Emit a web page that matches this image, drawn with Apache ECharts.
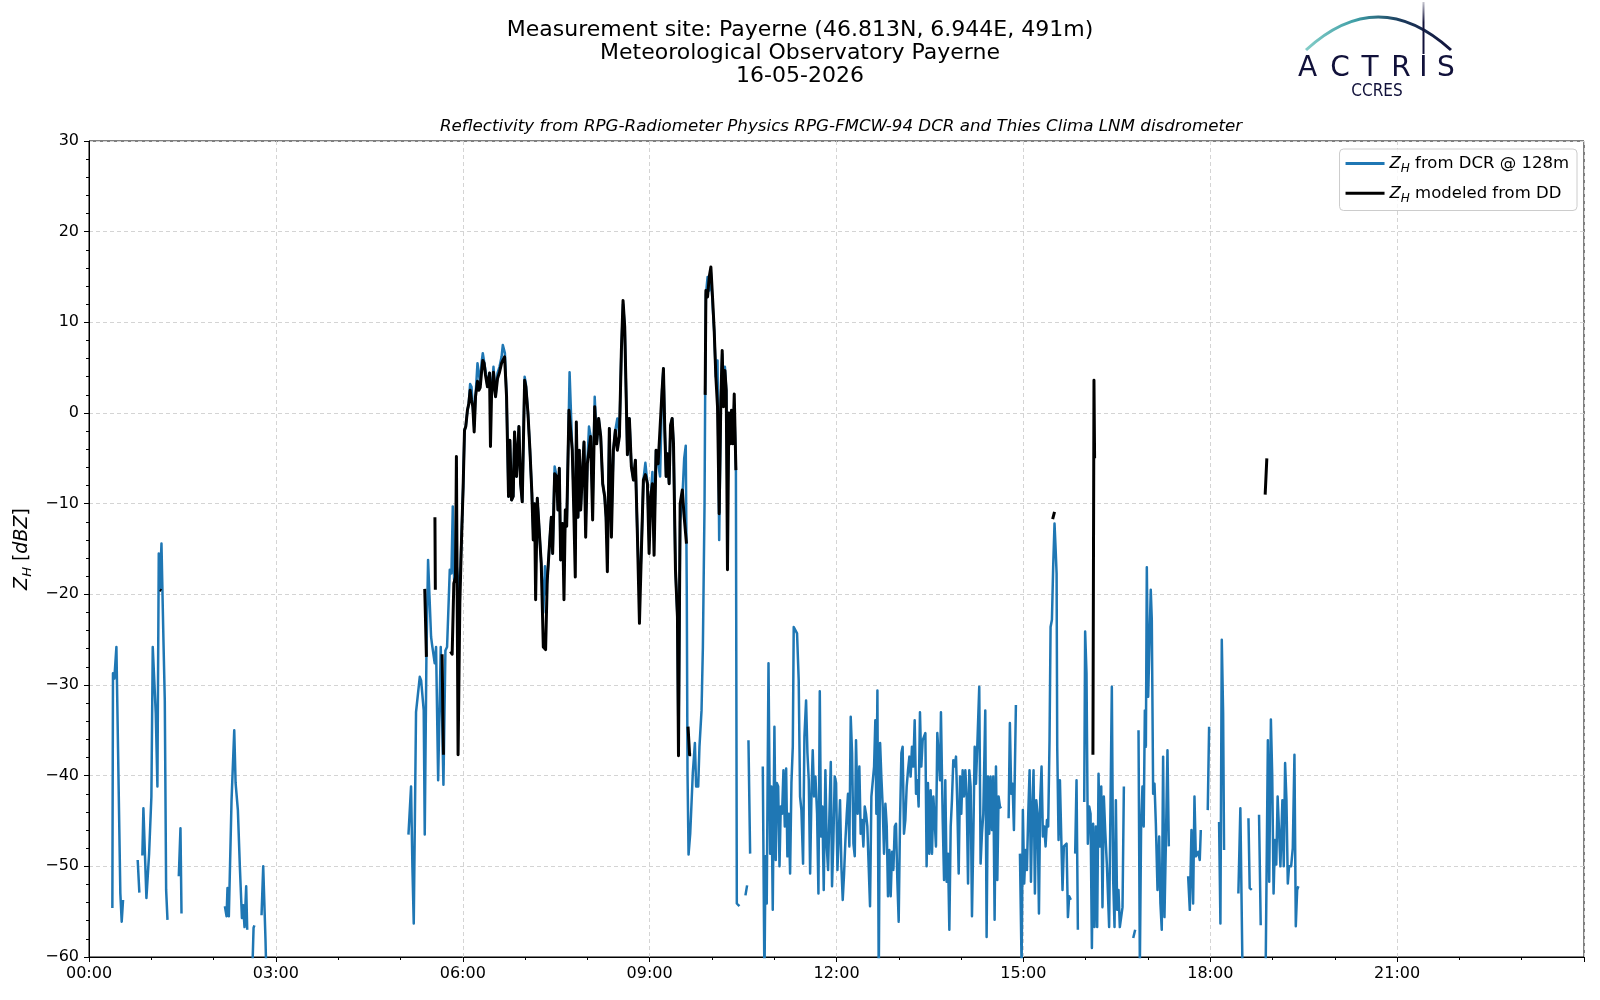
<!DOCTYPE html>
<html>
<head>
<meta charset="utf-8">
<title>Reflectivity Payerne 16-05-2026</title>
<script src="https://cdn.jsdelivr.net/npm/echarts@6/dist/echarts.min.js"></script>
<style>
    html, body { margin: 0; padding: 0; background: #fff; }
    #chart { width: 1600px; height: 1000px; }
</style>
</head>
<body>
<div id="chart"></div>
<script>
// minutes since 00:00 UTC, reflectivity in dBZ; null = gap in the record
var dcrPoints = [
    [22.5,-54.6],[23.1,-28.7],[24.4,-29.3],[26.4,-25.8],[27.6,-26],[30.2,-53],[31.5,-56.1],[32.8,-53.7], null,
    [46.9,-49.3],[48.5,-52.9], null,
    [51.4,-48.8],[52.4,-43.6],[55.3,-53.5],[57.9,-48.6],[60.1,-42.3],[61.4,-25.8],[63,-26],[64.3,-33.1],[65.9,-41.2],[67.2,-15.5],[68.2,-19.5],[69.8,-14.4],[71.7,-25],[73,-31.7],[74.3,-52.6],[75.6,-55.9], null,
    [86.5,-51.1],[88.1,-45.8],[89.1,-55.2], null,
    [130.9,-54.4],[132.5,-55.5],[133.4,-52.4],[134.7,-55.5],[136,-55.5],[137.3,-42.7],[139.9,-35],[141.2,-40.8],[143.4,-43.8],[145.3,-50],[147.3,-55.7],[148.5,-54.3],[149.8,-56.7],[151.4,-52.2],[152.4,-57], null,
    [156.5,-65],[158.5,-56.8],[159.3,-56.5], null,
    [166.2,-55.4],[167.8,-50],[170,-58.1],[171.5,-65], null,
    [307.7,-46.5],[310.2,-41.2],[311.5,-50],[312.8,-56.3],[315,-33],[318.6,-29.1],[319.9,-29.5],[322.4,-32.8],[323.4,-46.5],[325,-26.9],[326.6,-16.2],[327.9,-16.2],[329.5,-24.7],[330.5,-25.6],[331.8,-25.4],[333,-27.6],[334.3,-25.8],[336.3,-40.5],[337.5,-40.7],[338.8,-25.8],[340.1,-26],[341.4,-41],[343.3,-26.2],[344.9,-25.8],[346.5,-20.6],[347.5,-17.3],[349.1,-17.7],[350.4,-10.3],[351.7,-18.4],[353.6,-16.2],[354.9,-17.7],[356.8,-20.3],[358.8,-13.7],
    [360.4,-8.1],[361.7,-1.9],[362.9,-1.5],[364.5,0.3],[365.8,1],[367.1,3.2],[368.4,2.9],[369.7,0.7],[371,-1.5],[372.3,1.8],[374.2,5.5],[375.5,4.4],[376.8,3.2],[378.1,5.5],[379.3,6.6],[380.6,6.7],[381.9,4.7],[383.8,2.9],[385.8,4.4],[387.7,1.8],[389.6,5.1],[391.6,1.8],[393.5,4.4],[395.4,5.1],[397.4,6.2],[398.6,7.5],[400.6,6.6],
    [402.2,1.8],[404.1,-9.2],[405.4,-3],[407,-9.6],[408.6,-9.2],[409.9,-2.1],[411.8,-7],[414.1,-1.5],[415.7,-7.8],[417.3,-9.8],[419.6,4],[420.8,3.2],[422.8,0],[424.7,-4.1],[426.6,-8.9],[427.9,-13],[429.2,-10],[430.2,-14],[431.8,-9.4],[433.7,-9.6],[435.6,-16.6],[437.6,-22],[439.2,-16.9],[439.8,-20],
    [441.4,-18.4],[444,-13.7],[445.3,-11.5],[446.6,-15.5],[448.5,-5.9],[450.4,-7],[451.7,-10.7],[453,-6.1],[454.3,-16.2],[456.2,-12.2],[457.5,-17],[458.8,-10.7],[460.1,-12.5],[462.9,4.5],[465.5,-4.1],[467.1,-10],[468.4,-15],[469.4,-2],[471,-11.5],[472.3,-4.1],[473.6,-10.7],[474.9,-7.4],[476.8,-3.2],[478.4,-12],[480,-5.6],[481.6,-1.5],[483.2,-2.6],[485.1,-10],[487.1,1.8],[489,-3.4],[490.9,-0.6],[492.9,-2.6],[494.8,-7.8],[496.7,-9.2],[498,-11.5],[499.3,-15],
    [501.2,-1.7],[503.2,-12],[505.1,-4.1],[507,-1.9],[508.9,-0.6],[510.9,-2.6],[512.8,6.9],[514.4,12],[516,9.5],[517.3,2.5],[518.6,-4.6],[520.5,-0.6],[522.4,-5.9],[524.4,-7.4],[526.3,-5.2],[528.2,-13.3],[530.2,-20],[532.1,-15.1],[534,-7.4],[535.9,-5.5],[537.9,-7.8],[539.5,-14],[541.1,-9.2],[542.7,-6.5],[544.3,-14],[546.2,-4.1],[548.2,-5.6],[550.1,-7],[552,2.5],[553.3,4.9],[554.6,-1.9],[555.9,-7],[557.2,-4.5],[558.8,-7.8],[560.1,-1.4],[561.7,-0.6],[563,-3.4],[564.9,-17.3],[566.8,-22.5],[567.8,-37],[569.4,-12],[571.5,-9.5],[573.3,-5],[574.8,-3.6],
    [575.8,-20],[576.5,-39.7],[577.5,-48.7],[579.1,-46.4],[581.6,-39.7],[583.6,-36.4],[584.8,-41.2],[586.8,-41.2],[588,-36.8],[590,-32.8],[591.3,-25.8],[592.9,-10],[593.5,2.1],[594.2,13],[595.8,15],[597.4,13.5],[599,15.5],[600.9,11.5],[602.2,9],[603.8,4],[605.4,5.8],[607,-14],[608.6,1],[609.9,6.5],[611.2,1],[612.5,5.1],[613.8,2.5],[615,-10],[616.3,0],[617.6,-3.4],[618.9,0.3],[620.2,-3.4],[621.5,1],[623.1,-6.3],[624,-54.1],[626.5,-54.4], null,
    [632.3,-53.2],[633.9,-52.1], null,
    [635.2,-36.1],[636.8,-48.6], null,
    [649,-39],[650.6,-63],[651.6,-48.9],[652.8,-54.1],[654.5,-27.6],[656.1,-48.6],[657.3,-41.2],[658.6,-54.8],[660.2,-34.6],[661.5,-49.3],[662.5,-40.8],[663.8,-41.2],[665.1,-50],[666.3,-43.4],[667.6,-44.2],[668.9,-39.4],[670.2,-45.6],[671.5,-39.2],[672.7,-48.9],[674,-44.2],[675.3,-50.8],[676.6,-40.8],[677.9,-36.8],[678.8,-23.6],[680.1,-23.4],[682,-24.3],[683.6,-29.5],[684.9,-42.3],[686.2,-43.8],[687.8,-49.7],[689.1,-35.7],[690.7,-31.7],[692,-37.5],[693.3,-40.5],[694.6,-50.8],[695.9,-42],[697.1,-37.2],[698.4,-42.3],[699.7,-40.1],
    [701.3,-44.2],[702.6,-53],[703.9,-30.7],[705.1,-46.7],[706.4,-43.4],[707.7,-52.6],[709.3,-39.4],[710.6,-47.8],[711.9,-50.4],[713.2,-44.2],[714.5,-38.5],[715.7,-52.2],[717,-47.1],[718.3,-40.1],[719.6,-40.8],[720.9,-50.4],[722.2,-46.4],[723.4,-42.7],[724.7,-50],[726,-53.7],[727.3,-50.8],[728.6,-47.1],[729.9,-44.2],[731.1,-42],[732.4,-47.8],[733.7,-33.5],[735,-37.5],[736.3,-47.5],[737.6,-48.9],[738.8,-36.1],[740.4,-44.2],[742,-39],[743.3,-46.4],[744.6,-44.9],[745.9,-47.8],[747.2,-43.4],[748.4,-44.2],[749.7,-45.6],
    [751,-50],[752.3,-54.4],[753.6,-42.3],[754.9,-42.3],[756.2,-39],[757.4,-33.9],[758.4,-44.2],[759.4,-30.6],[760.7,-63],[762,-36.4],[763.2,-40.1],[764.5,-43.4],[765.8,-48.6],[767.1,-43.1],[768.4,-45.6],[769.6,-53.3],[770.9,-48.2],[772.2,-53.3],[773.5,-48.4],[774.8,-50.4],[776.1,-45.6],[777.3,-45.3],[778.6,-51.5],[779.9,-56.1],[781.2,-44.9],[782.5,-37.5],[783.7,-36.8],[785,-46.4],[786.3,-44.9],[787.6,-41.2],[788.9,-39.4],[790.2,-37.9],[791.4,-40.1],[792.7,-36.8],[794,-39],[795.3,-33.9],[796.6,-42],[797.9,-40.5],[799.1,-43.4],
    [800.4,-33],[801.7,-39],[803,-36.1],[804.3,-35.7],[805.6,-35.3],[806.8,-50],[808.1,-40.8],[809.4,-48.6],[810.7,-41.6],[812,-48.6],[813.3,-42.3],[814.5,-44.9],[815.8,-47.8],[817.1,-35.3],[818.4,-35.1],[819.7,-40.5],[820.6,-33],[822.3,-44.9],[823.6,-51.5],[824.8,-40.5],[826.1,-51.7],[827.4,-48.6],[828.7,-57],[830,-45.6],[831.2,-42.7],[832.5,-38.3],[833.8,-39],[835.1,-37.9],[836.4,-43.4],[837.7,-50.8],[839,-40.1],[840.2,-44.2],[841.5,-39.4],[842.8,-42.3],[844.1,-39.4],[845.4,-42.3],[846.7,-51.9],[847.9,-39.4],[849.2,-41.2],
    [850.5,-55.5],[851.8,-46.7],[853.1,-36.8],[854.3,-40.9],[855.6,-36.8],[857.5,-30.2],[858.8,-49.7],[860.1,-46.4],[861.4,-44.2],[863.3,-32.8],[864.6,-57.8],[865.9,-40.1],[867.1,-46.4],[868.4,-40.1],[869.7,-46],[871,-40.1],[872.3,-55.9],[873.6,-39],[874.9,-51.5],[876.1,-42.3],[877.4,-43.4],[878.4,-43.6], null,
    [885.8,-44.7],[887,-34.2],[888.3,-42],[889.6,-40.9],[890.9,-46],[892.8,-32.2], null,
    [896.7,-48.6],[898.3,-61],[899.5,-43.8],[900.8,-51.9],[902.1,-48.2],[903.4,-50.4],[904.7,-44.2],[906,-39.4],[907.3,-51.7],[908.5,-43.8],[909.8,-39.4],[911.1,-53],[912.4,-42.7],[913.7,-44.2],[915,-55.2],[916.2,-42.7],[917.5,-39],[918.8,-46.7],[920.1,-45.6],[921.4,-47.8],[922.7,-44.9],[923.9,-45.6],[925.2,-36.1],[926.2,-23.6],[927.5,-22.8],[928.7,-17],[930,-12.2],[931,-14.8],[932,-17.7],[932.6,-36.8],[933.9,-47.1],[935.2,-40.5],[936.4,-40.5],[937.7,-52.6],[939,-47.8],[940.3,-47.8],[941.6,-47.5],[942.9,-55.6],[944.1,-53.3],[945.7,-53.7], null,
    [949.9,-48.6],[951.2,-40.5],[952.5,-57], null,
    [958.6,-42.9],[959.5,-24.1],[960.8,-28.7],[962.1,-47.5],[963.4,-43.4],[964.7,-44.2],[966,-59],[967.2,-45.3],[968.5,-56.7],[969.8,-45.6],[971.1,-56.7],[972.4,-39.8],[973.7,-47.8],[975,-41.2],[976.2,-54.5],[977.5,-42.3],[978.8,-46],[980.5,-50],[982.6,-56.7],[985.2,-30.2],[986.5,-51.5],[987.8,-56.7],[989.1,-42.7],[990.3,-54.8],[991.6,-52.6],[992.9,-56.7],[995.5,-54.5],[996.8,-41.2], null,
    [1005.8,-57.9],[1007.7,-57], null,
    [1010.9,-35],[1012.2,-61],[1013.4,-45.6],[1014.7,-41.2],[1015.9,-45.6],[1017,-32.8],[1018,-36.8],[1018.9,-17],[1020.2,-31.3],[1021.4,-31.3],[1022.7,-19.5],[1023.7,-22.8],[1025,-42],[1026.3,-40.9],[1027.6,-45.3],[1029.2,-52.6],[1030.8,-46.7],[1032,-54.1],[1033.3,-57],[1034.6,-37.9],[1035.9,-55.6],[1037.2,-47.8],[1038.8,-37.2],[1040.1,-47.8], null,
    [1058.7,-51.1],[1060.3,-54.8],[1061.9,-46],[1063.5,-54.1],[1064.8,-42.3],[1066.1,-48.9],[1068.4,-48.4],[1069.9,-49.3],[1070.9,-46], null,
    [1077.6,-43.8],[1078.9,-34.6], null,
    [1088.5,-45.1],[1089.8,-56.3],[1091.1,-25],[1092.4,-33.1],[1093.3,-48.2], null,
    [1107.1,-53],[1109,-43.6],[1111,-61], null,
    [1116.8,-44.7],[1118,-52.4],[1120,-52.6], null,
    [1127,-44.3],[1128.6,-56.5], null,
    [1133.4,-61],[1135.5,-36.1],[1136.8,-51.7],[1138.4,-33.8],[1139.7,-40],[1141,-53],[1142.3,-47.1],[1143.6,-49.8],[1144.9,-42.3],[1146.3,-46.2],[1147.6,-50],[1149.5,-42.7],[1150.8,-50],[1152.1,-38.6],[1153.4,-42.7],[1154.7,-51.9],[1155.9,-50],[1157.9,-50],[1159.5,-48],[1161.1,-37.7],[1162.4,-56.6],[1163.7,-52.6],[1164.9,-52.2]
];

var ddPoints = [
    [68.3,-19.5],[69.6,-19.6], null,
    [323.4,-19.4],[325,-26.9], null,
    [333.2,-11.5],[333.6,-19.5], null,
    [340.1,-26.6],[341.4,-37.7], null,
    [348.2,-26.3],[349.8,-26.6],[351.4,-18.8],[353,-18.1],[353.9,-4.8],[355.5,-37.7],[357.2,-21],[358.8,-14],
    [360.4,-8.1],[361.7,-1.9],[362.9,-1.5],[364.5,0.3],[365.8,1],[367.1,2.5],[368.4,1.5],[369.7,0.7],[371,-2.1],[372.3,1.8],[374.2,3.5],[375.5,2.5],[376.8,2.8],[378.1,4.5],[379.3,5.8],[380.6,5.5],[381.9,4.2],[383.8,2.9],[385.8,4.4],[386.7,-3.7],[387.7,1.8],[389.6,4.5],[391.6,1.8],[393.5,3.8],[395.4,4.5],[397.4,5.5],[398.6,5.8],[400.3,6.2],
    [402.2,1.8],[404.1,-9.2],[405.4,-3],[407,-9.6],[408.6,-9.2],[409.9,-2.1],[411.8,-7],[414.1,-1.5],[415.7,-7.8],[417.3,-9.8],[419.6,3.6],[420.8,2.9],[422.8,0],[424.7,-4.1],[426.6,-8.9],[427.9,-14],[429.2,-10],[430.2,-20.6],[431.8,-9.4],[433.7,-9.6],[435.6,-16.6],[437.6,-25.8],[439.8,-26.1],
    [441.4,-18.4],[444,-13.7],[445.3,-11.5],[446.6,-15.5],[448.5,-6.7],[450.4,-7],[451.7,-10.7],[453,-6.1],[454.3,-16.2],[456.2,-12.2],[457.5,-20.6],[458.8,-10.7],[460.1,-12.5],[462.3,0.3],[465.5,-4.1],[467.1,-11.5],[468.4,-18.1],[469.4,-1],[471,-11.5],[472.3,-4.1],[473.6,-10.7],[474.9,-7.4],[476.8,-3.2],[478.4,-13.7],[480,-5.6],[481.6,-4.1],[483.2,-2.6],[485.1,-11.8],[487.1,0.7],[489,-3.4],[490.9,-0.6],[492.9,-2.6],[494.8,-7.8],[496.7,-9.2],[498,-11.5],[499.3,-17.5],
    [501.2,-1.7],[503.2,-13.7],[505.1,-4.1],[507,-1.9],[508.9,-4.1],[510.9,-2.6],[512.8,6.9],[514.4,12.4],[516,9.5],[517.3,2.5],[518.6,-4.6],[520.5,-0.6],[522.4,-5.9],[524.4,-7.4],[526.3,-5.2],[528.2,-13.3],[530.2,-23.2],[532.1,-15.1],[534,-7.4],[535.9,-6.8],[537.9,-7.8],[539.5,-15.5],[541.1,-9.2],[542.7,-7.8],[544.3,-15.7],[546.2,-4.1],[548.2,-5.6],[550.1,-5.6],[552,2.5],[553.3,4.9],[554.6,-1.9],[555.9,-7],[557.2,-4.5],[558.8,-7.8],[560.1,-1.4],[561.7,-0.6],[563,-3.4],[564.9,-17.3],[566.8,-22.5],[567.8,-37.8],[569.4,-10],[571.5,-8.5],[573.3,-11.5],[575.5,-14.4], null,
    [577,-34.6],[578.5,-37.7],[580,-37.7], null,
    [593.5,2],[594.2,13.5],[595.8,12.8],[597.4,15],[599,16.1],[600.9,12.1],[602.2,9.1],[603.8,4],[605.4,0.7],[607,-11.1],[608.6,1.4],[609.9,6.9],[611.2,0.7],[612.5,4.7],[613.8,2.5],[615,-17.3],[616.3,0],[617.6,-3.4],[618.9,0.3],[620.2,-3.4],[621.5,2.1],[623.1,-6.3], null,
    [928.2,-11.7],[930,-10.9], null,
    [967,-37.7],[968,3.6],[968.6,-5], null,
    [1132.9,-9],[1134.5,-5]
];

var xTickLabels = ['00:00', '03:00', '06:00', '09:00', '12:00', '15:00', '18:00', '21:00'];
var seriesNames = ['ZH from DCR @ 128m', 'ZH modeled from DD'];
var legendLabels = ['{i|Z}{s|H}{n| from DCR @ 128m}', '{i|Z}{s|H}{n| modeled from DD}'];
var titleLines = ['Measurement site: Payerne (46.813N, 6.944E, 491m)', 'Meteorological Observatory Payerne', '16-05-2026'];
var subTitle = 'Reflectivity from RPG-Radiometer Physics RPG-FMCW-94 DCR and Thies Clima LNM disdrometer';
var logoLetters = ['A', 'C', 'T', 'R', 'I', 'S'];

(function () {
    "use strict";
    var FONT = 'DejaVu Sans';
    var NAVY = '#11113a';

    function richText(size) {
        return {
            n: { fontFamily: FONT, fontSize: size, color: '#000', lineHeight: size + 6 },
            i: { fontFamily: FONT, fontSize: size, color: '#000', fontStyle: 'italic', lineHeight: size + 6 },
            s: { fontFamily: FONT, fontSize: Math.round(size * 0.7), color: '#000', fontStyle: 'italic', lineHeight: Math.round(size * 0.7), verticalAlign: 'bottom' }
        };
    }

    function toSeriesData(points) {
        return points.map(function (p) {
            return p ? [p[0], p[1]] : ['-', '-'];
        });
    }

    function getTitle() {
        return [{
            text: titleLines.join('\n'),
            left: 'center',
            top: 14,
            textStyle: { fontFamily: FONT, fontSize: 22, fontWeight: 'normal', color: '#000', lineHeight: 23 }
        }, {
            text: subTitle,
            left: 836,
            textAlign: 'center',
            top: 113,
            textStyle: { fontFamily: FONT, fontSize: 16.7, fontWeight: 'normal', fontStyle: 'italic', color: '#000' }
        }];
    }

    function getLegend() {
        return {
            orient: 'vertical',
            right: 23,
            top: 149,
            padding: [6, 8, 6, 6],
            itemGap: 10,
            itemWidth: 39,
            itemHeight: 3,
            backgroundColor: 'rgba(255,255,255,0.8)',
            borderColor: '#cccccc',
            borderWidth: 1,
            borderRadius: 4,
            data: [{ name: seriesNames[0], icon: 'rect' }, { name: seriesNames[1], icon: 'rect' }],
            formatter: function (name) {
                return legendLabels[seriesNames.indexOf(name)];
            },
            textStyle: { fontFamily: FONT, fontSize: 16.5, color: '#000', rich: richText(16.5) }
        };
    }

    function getXAxis() {
        return {
            type: 'value',
            min: 0,
            max: 1440,
            interval: 180,
            axisLine: { show: true, onZero: false, lineStyle: { color: '#000', width: 1 } },
            axisTick: { show: true, inside: false, length: 5, lineStyle: { color: '#000' } },
            minorTick: { show: true, splitNumber: 3, length: 3, lineStyle: { color: '#000' } },
            splitLine: { show: true, lineStyle: { color: '#d4d4d4', type: [4, 3], width: 1 } },
            axisLabel: {
                margin: 9,
                fontFamily: FONT,
                fontSize: 16,
                color: '#000',
                formatter: function (v) {
                    var k = Math.round(v / 180);
                    return k < xTickLabels.length ? xTickLabels[k] : '';
                }
            }
        };
    }

    function getYAxis() {
        return {
            type: 'value',
            min: -60,
            max: 30,
            interval: 10,
            name: '{i|Z}{s|H}{n| [}{i|dBZ}{n|]}',
            nameLocation: 'middle',
            nameRotate: 90,
            nameGap: 50,
            nameTextStyle: { fontFamily: FONT, fontSize: 19, color: '#000', rich: richText(19) },
            axisLine: { show: true, onZero: false, lineStyle: { color: '#000', width: 1 } },
            axisTick: { show: true, inside: false, length: 5, lineStyle: { color: '#000' } },
            minorTick: { show: true, splitNumber: 5, length: 3, lineStyle: { color: '#000' } },
            splitLine: { show: true, lineStyle: { color: '#d4d4d4', type: [4, 3], width: 1 } },
            axisLabel: {
                margin: 10,
                fontFamily: FONT,
                fontSize: 16,
                color: '#000',
                formatter: function (v) {
                    return String(v).replace('-', '\u2212');
                }
            }
        };
    }

    function getSeries() {
        return [{
            name: seriesNames[0],
            type: 'line',
            data: toSeriesData(dcrPoints),
            showSymbol: false,
            connectNulls: false,
            clip: true,
            color: '#1f77b4',
            lineStyle: { color: '#1f77b4', width: 2.5, join: 'round', cap: 'butt' },
            z: 2
        }, {
            name: seriesNames[1],
            type: 'line',
            data: toSeriesData(ddPoints),
            showSymbol: false,
            connectNulls: false,
            clip: true,
            color: '#000000',
            lineStyle: { color: '#000000', width: 3, join: 'round', cap: 'butt' },
            z: 3
        }];
    }

    function getLogo() {
        var letterX = [1307.5, 1340, 1370, 1401, 1423.5, 1446];
        var items = [{
            type: 'bezierCurve',
            shape: { x1: 1306, y1: 50, x2: 1451, y2: 50, cpx1: 1378, cpy1: -16 },
            style: {
                fill: 'none',
                lineWidth: 3,
                stroke: new echarts.graphic.LinearGradient(0, 0, 1, 0, [
                    { offset: 0, color: '#86cfc9' },
                    { offset: 0.35, color: '#3f9ea6' },
                    { offset: 0.65, color: '#1b3a5c' },
                    { offset: 1, color: NAVY }
                ])
            }
        }, {
            type: 'line',
            shape: { x1: 1423.5, y1: 2, x2: 1423.5, y2: 54 },
            style: {
                lineWidth: 2,
                stroke: new echarts.graphic.LinearGradient(0, 0, 0, 1, [
                    { offset: 0, color: 'rgba(17,17,58,0.15)' },
                    { offset: 0.4, color: NAVY },
                    { offset: 1, color: NAVY }
                ])
            }
        }];
        logoLetters.forEach(function (ch, idx) {
            items.push({
                type: 'text',
                style: {
                    text: ch,
                    x: letterX[idx],
                    y: 68.5,
                    align: 'center',
                    verticalAlign: 'middle',
                    fontFamily: FONT,
                    fontSize: 28,
                    fill: NAVY
                }
            });
        });
        items.push({
            type: 'text',
            style: {
                text: 'CCRES',
                x: 1377,
                y: 92,
                align: 'center',
                verticalAlign: 'middle',
                fontFamily: 'DejaVu Sans Condensed',
                fontSize: 17,
                fill: NAVY
            }
        });
        return items;
    }

    var chart = echarts.init(document.getElementById('chart'), null, { renderer: 'canvas' });
    chart.setOption({
        animation: false,
        backgroundColor: '#ffffff',
        title: getTitle(),
        legend: getLegend(),
        grid: { left: 89, right: 16, top: 141, bottom: 43, show: true, borderColor: '#000', borderWidth: 1, backgroundColor: 'transparent' },
        xAxis: getXAxis(),
        yAxis: getYAxis(),
        series: getSeries(),
        graphic: getLogo()
    });
}());
</script>
</body>
</html>
